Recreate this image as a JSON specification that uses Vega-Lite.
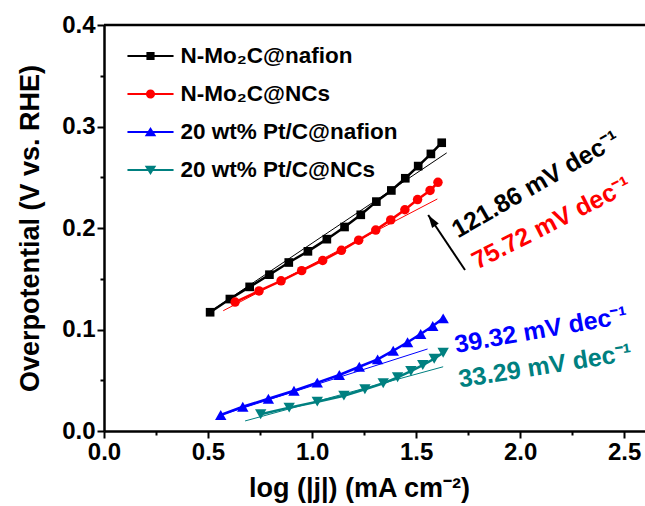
{
  "$schema": "https://vega.github.io/schema/vega-lite/v6.json",
  "width": 541,
  "height": 406,
  "autosize": {"type": "none"},
  "padding": {"left": 104, "top": 25, "right": 0, "bottom": 75},
  "background": "white",
  "config": {"view": {"stroke": null}, "font": "Liberation Sans"},
  "datasets": {
    "curves": [
      {"series": "N-Mo₂C@nafion", "x": 0.51, "y": 0.117},
      {"series": "N-Mo₂C@nafion", "x": 0.605, "y": 0.130},
      {"series": "N-Mo₂C@nafion", "x": 0.700, "y": 0.142},
      {"series": "N-Mo₂C@nafion", "x": 0.795, "y": 0.154},
      {"series": "N-Mo₂C@nafion", "x": 0.888, "y": 0.166},
      {"series": "N-Mo₂C@nafion", "x": 0.980, "y": 0.177},
      {"series": "N-Mo₂C@nafion", "x": 1.071, "y": 0.189},
      {"series": "N-Mo₂C@nafion", "x": 1.156, "y": 0.201},
      {"series": "N-Mo₂C@nafion", "x": 1.234, "y": 0.213},
      {"series": "N-Mo₂C@nafion", "x": 1.309, "y": 0.226},
      {"series": "N-Mo₂C@nafion", "x": 1.381, "y": 0.237},
      {"series": "N-Mo₂C@nafion", "x": 1.448, "y": 0.249},
      {"series": "N-Mo₂C@nafion", "x": 1.510, "y": 0.261},
      {"series": "N-Mo₂C@nafion", "x": 1.571, "y": 0.273},
      {"series": "N-Mo₂C@nafion", "x": 1.623, "y": 0.284},
      {"series": "N-Mo₂C@NCs", "x": 0.630, "y": 0.127},
      {"series": "N-Mo₂C@NCs", "x": 0.745, "y": 0.138},
      {"series": "N-Mo₂C@NCs", "x": 0.851, "y": 0.148},
      {"series": "N-Mo₂C@NCs", "x": 0.950, "y": 0.158},
      {"series": "N-Mo₂C@NCs", "x": 1.051, "y": 0.168},
      {"series": "N-Mo₂C@NCs", "x": 1.141, "y": 0.178},
      {"series": "N-Mo₂C@NCs", "x": 1.224, "y": 0.188},
      {"series": "N-Mo₂C@NCs", "x": 1.306, "y": 0.198},
      {"series": "N-Mo₂C@NCs", "x": 1.378, "y": 0.208},
      {"series": "N-Mo₂C@NCs", "x": 1.446, "y": 0.218},
      {"series": "N-Mo₂C@NCs", "x": 1.507, "y": 0.228},
      {"series": "N-Mo₂C@NCs", "x": 1.567, "y": 0.237},
      {"series": "N-Mo₂C@NCs", "x": 1.605, "y": 0.245},
      {"series": "20 wt% Pt/C@nafion", "x": 0.561, "y": 0.0158},
      {"series": "20 wt% Pt/C@nafion", "x": 0.667, "y": 0.0239},
      {"series": "20 wt% Pt/C@nafion", "x": 0.790, "y": 0.0318},
      {"series": "20 wt% Pt/C@nafion", "x": 0.913, "y": 0.0397},
      {"series": "20 wt% Pt/C@nafion", "x": 1.025, "y": 0.0476},
      {"series": "20 wt% Pt/C@nafion", "x": 1.131, "y": 0.0552},
      {"series": "20 wt% Pt/C@nafion", "x": 1.227, "y": 0.0633},
      {"series": "20 wt% Pt/C@nafion", "x": 1.315, "y": 0.0706},
      {"series": "20 wt% Pt/C@nafion", "x": 1.390, "y": 0.0791},
      {"series": "20 wt% Pt/C@nafion", "x": 1.459, "y": 0.0874},
      {"series": "20 wt% Pt/C@nafion", "x": 1.522, "y": 0.0956},
      {"series": "20 wt% Pt/C@nafion", "x": 1.580, "y": 0.1034},
      {"series": "20 wt% Pt/C@nafion", "x": 1.630, "y": 0.1110},
      {"series": "20 wt% Pt/C@NCs", "x": 0.753, "y": 0.0165},
      {"series": "20 wt% Pt/C@NCs", "x": 0.890, "y": 0.0230},
      {"series": "20 wt% Pt/C@NCs", "x": 1.025, "y": 0.0289},
      {"series": "20 wt% Pt/C@NCs", "x": 1.153, "y": 0.0348},
      {"series": "20 wt% Pt/C@NCs", "x": 1.254, "y": 0.0411},
      {"series": "20 wt% Pt/C@NCs", "x": 1.342, "y": 0.0470},
      {"series": "20 wt% Pt/C@NCs", "x": 1.411, "y": 0.0529},
      {"series": "20 wt% Pt/C@NCs", "x": 1.475, "y": 0.0591},
      {"series": "20 wt% Pt/C@NCs", "x": 1.532, "y": 0.0650},
      {"series": "20 wt% Pt/C@NCs", "x": 1.587, "y": 0.0712},
      {"series": "20 wt% Pt/C@NCs", "x": 1.630, "y": 0.0771}
    ],
    "fits": [
      {"series": "N-Mo₂C@nafion", "x": 0.52, "y": 0.119},
      {"series": "N-Mo₂C@nafion", "x": 1.647, "y": 0.274},
      {"series": "N-Mo₂C@NCs", "x": 0.573, "y": 0.1185},
      {"series": "N-Mo₂C@NCs", "x": 1.602, "y": 0.2286},
      {"series": "20 wt% Pt/C@nafion", "x": 0.56, "y": 0.0156},
      {"series": "20 wt% Pt/C@nafion", "x": 1.555, "y": 0.0808},
      {"series": "20 wt% Pt/C@NCs", "x": 0.678, "y": 0.0099},
      {"series": "20 wt% Pt/C@NCs", "x": 1.630, "y": 0.0633}
    ],
    "notes": [
      {"series": "N-Mo₂C@nafion", "x": 2.075, "y": 0.243, "text": "121.86 mV dec⁻¹"},
      {"series": "N-Mo₂C@NCs", "x": 2.15, "y": 0.205, "text": "75.72 mV dec⁻¹"},
      {"series": "20 wt% Pt/C@nafion", "x": 2.10, "y": 0.0995, "text": "39.32 mV dec⁻¹"},
      {"series": "20 wt% Pt/C@NCs", "x": 2.12, "y": 0.064, "text": "33.29 mV dec⁻¹"}
    ],
    "arrow": [{"x": 1.735, "y": 0.1586, "x2": 1.558, "y2": 0.2128}]
  },
  "layer": [
    {
      "data": {"name": "fits"},
      "mark": {"type": "line", "strokeWidth": 1},
      "encoding": {
        "x": {
          "field": "x", "type": "quantitative",
          "scale": {"domain": [0, 2.6], "nice": false, "zero": false},
          "axis": {
            "title": "log (|j|) (mA cm⁻²)",
            "values": [0, 0.25, 0.5, 0.75, 1, 1.25, 1.5, 1.75, 2, 2.25, 2.5],
            "labelExpr": "abs(datum.value*2-round(datum.value*2))<0.001 ? format(datum.value,'.1f') : ''",
            "tickSize": {"condition": {"test": "abs(datum.value*2-round(datum.value*2))<0.001", "value": 7}, "value": 4},
            "tickWidth": 2, "tickColor": "black",
            "domainColor": "black", "domainWidth": 2.5,
            "labelFont": "Liberation Sans", "labelFontSize": 24, "labelFontWeight": "bold", "labelColor": "black",
            "labelPadding": 2, "labelFlush": false, "labelOverlap": false, "grid": false,
            "titleFont": "Liberation Sans", "titleFontSize": 27, "titleFontWeight": "bold", "titleColor": "black",
            "titleX": 255, "titleY": 65, "titleBaseline": "alphabetic"
          }
        },
        "y": {
          "field": "y", "type": "quantitative",
          "scale": {"domain": [0, 0.4], "nice": false, "zero": false},
          "axis": {
            "title": "Overpotential (V vs. RHE)",
            "values": [0, 0.05, 0.1, 0.15, 0.2, 0.25, 0.3, 0.35, 0.4],
            "labelExpr": "abs(datum.value*10-round(datum.value*10))<0.001 ? format(datum.value,'.1f') : ''",
            "tickSize": {"condition": {"test": "abs(datum.value*10-round(datum.value*10))<0.001", "value": 7}, "value": 4},
            "tickWidth": 2, "tickColor": "black",
            "domainColor": "black", "domainWidth": 2.5,
            "labelFont": "Liberation Sans", "labelFontSize": 24, "labelFontWeight": "bold", "labelColor": "black",
            "labelPadding": 2, "labelFlush": false, "labelOverlap": false, "grid": false,
            "titleFont": "Liberation Sans", "titleFontSize": 27, "titleFontWeight": "bold", "titleColor": "black",
            "titleX": -66, "titleBaseline": "alphabetic"
          }
        },
        "color": {
          "field": "series", "type": "nominal",
          "scale": {
            "domain": ["N-Mo₂C@nafion", "N-Mo₂C@NCs", "20 wt% Pt/C@nafion", "20 wt% Pt/C@NCs"],
            "range": ["#000000", "#ff0000", "#0000ff", "#008080"]
          }
        }
      }
    },
    {
      "data": {"name": "curves"},
      "mark": {"type": "line", "strokeWidth": 2.5},
      "encoding": {
        "x": {"field": "x", "type": "quantitative"},
        "y": {"field": "y", "type": "quantitative"},
        "color": {
          "field": "series", "type": "nominal",
          "legend": {
            "orient": "none", "legendX": 34.5, "legendY": 19, "title": null,
            "symbolSize": 576, "labelFont": "Liberation Sans", "labelFontSize": 22.5, "labelFontWeight": "bold",
            "labelColor": "black", "labelOffset": 18, "rowPadding": 14, "padding": 0, "labelLimit": 400,
            "symbolType": "M-1.92,-0.09H1.92V0.09H-1.92Z",
            "encode": {
              "symbols": {
                "update": {
                  "shape": {"signal": "datum.value === 'N-Mo₂C@nafion' ? 'M-1.92,-0.09H1.92V0.09H-1.92Z M-0.34,-0.34H0.34V0.34H-0.34Z' : datum.value === 'N-Mo₂C@NCs' ? 'M-1.92,-0.09H1.92V0.09H-1.92Z M-0.38,0A0.38,0.38 0 1,1 0.38,0A0.38,0.38 0 1,1 -0.38,0Z' : datum.value === '20 wt% Pt/C@nafion' ? 'M-1.92,-0.09H1.92V0.09H-1.92Z M0,-0.42L0.48,0.36H-0.48Z' : 'M-1.92,-0.09H1.92V0.09H-1.92Z M-0.48,-0.36H0.48L0,0.42Z'"},
                  "fill": {"signal": "datum.value === 'N-Mo₂C@nafion' ? '#000000' : datum.value === 'N-Mo₂C@NCs' ? '#ff0000' : datum.value === '20 wt% Pt/C@nafion' ? '#0000ff' : '#008080'"},
                  "fillOpacity": {"value": 1},
                  "stroke": {"value": "transparent"},
                  "strokeWidth": {"value": 0},
                  "opacity": {"value": 1}
                }
              }
            }
          }
        }
      }
    },
    {
      "data": {"name": "curves"},
      "transform": [{"filter": "datum.series === 'N-Mo₂C@nafion'"}],
      "mark": {"type": "point", "filled": true, "opacity": 1, "shape": "square", "size": 75, "color": "#000000"},
      "encoding": {
        "x": {"field": "x", "type": "quantitative"},
        "y": {"field": "y", "type": "quantitative"}
      }
    },
    {
      "data": {"name": "curves"},
      "transform": [{"filter": "datum.series === 'N-Mo₂C@NCs'"}],
      "mark": {"type": "point", "filled": true, "opacity": 1, "shape": "circle", "size": 90, "color": "#ff0000"},
      "encoding": {
        "x": {"field": "x", "type": "quantitative"},
        "y": {"field": "y", "type": "quantitative"}
      }
    },
    {
      "data": {"name": "curves"},
      "transform": [{"filter": "datum.series === '20 wt% Pt/C@nafion'"}],
      "mark": {"type": "point", "filled": true, "opacity": 1, "shape": "triangle-up", "size": 130, "color": "#0000ff"},
      "encoding": {
        "x": {"field": "x", "type": "quantitative"},
        "y": {"field": "y", "type": "quantitative"}
      }
    },
    {
      "data": {"name": "curves"},
      "transform": [{"filter": "datum.series === '20 wt% Pt/C@NCs'"}],
      "mark": {"type": "point", "filled": true, "opacity": 1, "shape": "triangle-down", "size": 130, "color": "#008080"},
      "encoding": {
        "x": {"field": "x", "type": "quantitative"},
        "y": {"field": "y", "type": "quantitative"}
      }
    },
    {
      "data": {"values": [{}]},
      "mark": {"type": "rule", "strokeWidth": 2.5, "color": "black"},
      "encoding": {"y": {"datum": 0.4, "type": "quantitative"}}
    },
    {
      "data": {"name": "notes"},
      "transform": [{"filter": "datum.series === 'N-Mo₂C@nafion'"}],
      "mark": {"type": "text", "fontSize": 25, "fontWeight": "bold", "font": "Liberation Sans", "align": "center", "baseline": "middle", "angle": -30, "color": "#000000"},
      "encoding": {
        "x": {"field": "x", "type": "quantitative"},
        "y": {"field": "y", "type": "quantitative"},
        "text": {"field": "text"}
      }
    },
    {
      "data": {"name": "notes"},
      "transform": [{"filter": "datum.series === 'N-Mo₂C@NCs'"}],
      "mark": {"type": "text", "fontSize": 25, "fontWeight": "bold", "font": "Liberation Sans", "align": "center", "baseline": "middle", "angle": -27, "color": "#ff0000"},
      "encoding": {
        "x": {"field": "x", "type": "quantitative"},
        "y": {"field": "y", "type": "quantitative"},
        "text": {"field": "text"}
      }
    },
    {
      "data": {"name": "notes"},
      "transform": [{"filter": "datum.series === '20 wt% Pt/C@nafion'"}],
      "mark": {"type": "text", "fontSize": 25, "fontWeight": "bold", "font": "Liberation Sans", "align": "center", "baseline": "middle", "angle": -10, "color": "#0000ff"},
      "encoding": {
        "x": {"field": "x", "type": "quantitative"},
        "y": {"field": "y", "type": "quantitative"},
        "text": {"field": "text"}
      }
    },
    {
      "data": {"name": "notes"},
      "transform": [{"filter": "datum.series === '20 wt% Pt/C@NCs'"}],
      "mark": {"type": "text", "fontSize": 25, "fontWeight": "bold", "font": "Liberation Sans", "align": "center", "baseline": "middle", "angle": -9, "color": "#008080"},
      "encoding": {
        "x": {"field": "x", "type": "quantitative"},
        "y": {"field": "y", "type": "quantitative"},
        "text": {"field": "text"}
      }
    },
    {
      "data": {"name": "arrow"},
      "mark": {"type": "rule", "strokeWidth": 2, "color": "black"},
      "encoding": {
        "x": {"field": "x", "type": "quantitative"},
        "y": {"field": "y", "type": "quantitative"},
        "x2": {"field": "x2"},
        "y2": {"field": "y2"}
      }
    },
    {
      "data": {"name": "arrow"},
      "mark": {"type": "point", "filled": true, "opacity": 1, "color": "black", "size": 100, "angle": -33.8, "shape": "M0,0L0.8,2.6L-0.8,2.6Z"},
      "encoding": {
        "x": {"field": "x2", "type": "quantitative"},
        "y": {"field": "y2", "type": "quantitative"}
      }
    }
  ]
}
